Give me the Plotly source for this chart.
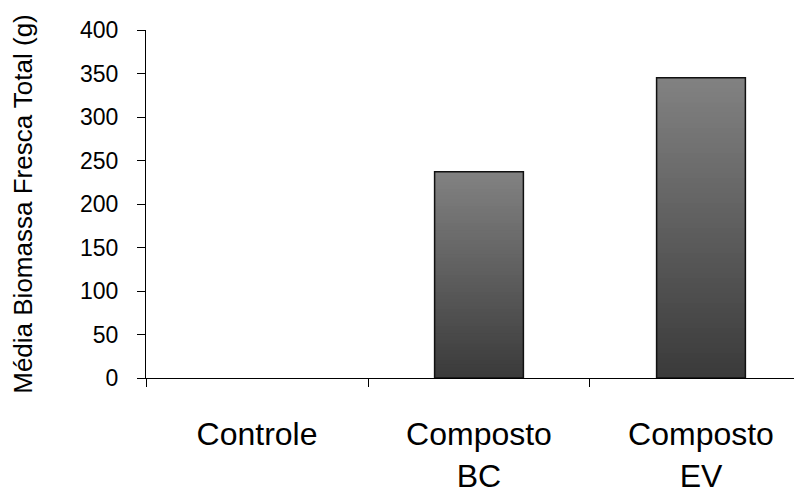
import plotly.graph_objects as go

categories = ["Controle", "Composto<br>BC", "Composto<br>EV"]
values = [0, 237, 345]
y_ticks = [0, 50, 100, 150, 200, 250, 300, 350, 400]
y_title = "Média Biomassa Fresca Total (g)"

FONT = "Arial, 'Liberation Sans', sans-serif"

fig = go.Figure()

# gradient fill: overlapping bars from the base, each shorter one darker
N = 60
top_rgb = (130, 130, 130)
bot_rgb = (58, 58, 58)
for k in range(N, 0, -1):
    t = (k - 0.5) / N
    c = tuple(round(bot_rgb[i] + (top_rgb[i] - bot_rgb[i]) * t) for i in range(3))
    fig.add_trace(go.Bar(
        x=categories,
        y=[v * k / N for v in values],
        width=0.4,
        marker=dict(color="rgb(%d,%d,%d)" % c, line=dict(width=0)),
        hoverinfo="skip",
        showlegend=False,
    ))

# outline
fig.add_trace(go.Bar(
    x=categories,
    y=values,
    width=0.4,
    marker=dict(color="rgba(0,0,0,0)",
                line=dict(color="#111111", width=[1.5 if v > 0 else 0 for v in values])),
    showlegend=False,
))

fig.update_layout(
    barmode="overlay",
    width=794,
    height=485,
    margin=dict(l=138, r=0, t=22, b=115),
    paper_bgcolor="white",
    plot_bgcolor="white",
    font=dict(family=FONT, color="black"),
    xaxis=dict(
        type="category",
        range=[-0.5, 2.455],
        automargin=False,
        showline=True,
        linecolor="black",
        linewidth=1,
        ticks="outside",
        tickson="boundaries",
        ticklen=8,
        tickcolor="black",
        tickfont=dict(size=32, family=FONT, color="black"),
        ticklabelstandoff=28,
        showgrid=False,
        zeroline=False,
    ),
    yaxis=dict(
        range=[0, 400],
        tickvals=y_ticks,
        automargin=False,
        showline=True,
        linecolor="black",
        linewidth=1,
        ticks="outside",
        ticklen=8,
        tickcolor="black",
        tickfont=dict(size=23, family=FONT, color="black"),
        ticklabelstandoff=14,
        showgrid=False,
        zeroline=False,
        title=dict(text=y_title, font=dict(size=26, family=FONT, color="black"), standoff=40),
    ),
)

fig.write_html("out.html")
